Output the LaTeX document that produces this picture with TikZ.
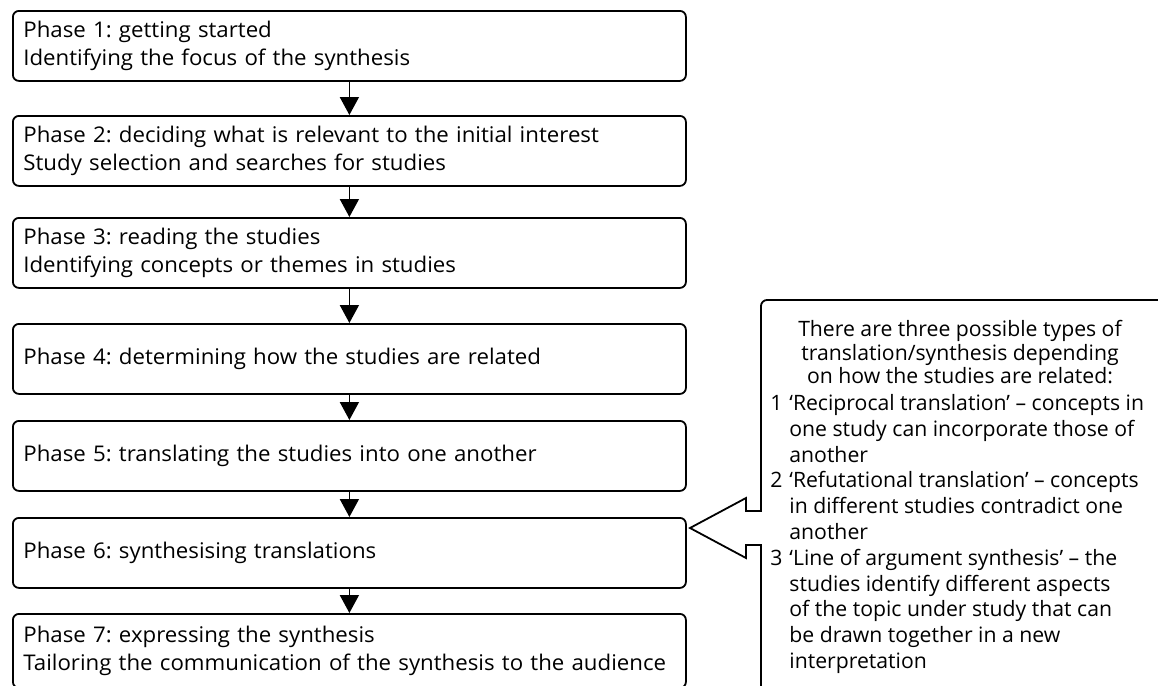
\documentclass[tikz,border=0pt]{standalone}
\usepackage{fontspec}
\setmainfont{Open Sans}
\newfontfamily\boxfont[FakeStretch=1.03]{Open Sans}
\usetikzlibrary{arrows.meta}
\frenchspacing

\newcommand{\itm}[1]{\makebox[9.5pt][l]{#1}}
\newcommand{\cont}{\hspace*{9.5pt}}

\begin{document}
\begin{tikzpicture}[x=1pt,y=-1pt,>={Triangle[width=9.5pt,length=9pt]},
 phase/.style={draw,line width=0.9pt,rounded corners=3pt,anchor=north west,minimum width=336.5pt,minimum height=35pt,text width=326pt,align=left,inner xsep=5pt,font=\boxfont\fontsize{10.8}{14}\selectfont},
 flow/.style={line width=0.9pt,->},
 note/.style={inner sep=0pt,font=\fontsize{10.6}{11.8}\selectfont}]
\useasboundingbox (0,0) rectangle (579,343);
\clip (0,0) rectangle (579,343);
% the seven phases
\node[phase] (p1) at (6,5) {Phase 1: getting started\\Identifying the focus of the synthesis};
\node[phase] (p2) at (6,57.5) {Phase 2: deciding what is relevant to the initial interest\\Study selection and searches for studies};
\node[phase] (p3) at (6,108.5) {Phase 3: reading the studies\\Identifying concepts or themes in studies};
\node[phase] (p4) at (6,161.5) {Phase 4: determining how the studies are related};
\node[phase] (p5) at (6,210) {Phase 5: translating the studies into one another};
\node[phase] (p6) at (6,258.5) {Phase 6: synthesising translations};
\node[phase,minimum height=37pt] (p7) at (6,306.5) {Phase 7: expressing the synthesis\\Tailoring the communication of the synthesis to the audience};
\foreach \a/\b in {p1/p2,p2/p3,p3/p4,p4/p5,p5/p6,p6/p7}{\draw[flow] (\a.south)--(\b.north);}
% callout pointing at phase 6
\coordinate (tip) at (345,264);
\draw[line width=0.9pt] (590,150) [rounded corners=3pt] -- (380.5,150) -- (380.5,200) [sharp corners] -- (380.5,255.5) -- (373,255.5) -- (373,249) -- (tip) -- (373,279) -- (373,272.5) -- (380.5,272.5) -- (380.5,300) [rounded corners=3pt] -- (380.5,347) -- (590,347);
\node[note,align=center,anchor=north] (head) at (480,160) {There are three possible types of\\translation/synthesis depending\\on how the studies are related:};
\node[note,align=left,anchor=north west,font=\fontsize{10.6}{12.9}\selectfont] (types) at (385,197) {\itm{1}‘Reciprocal translation’ – concepts in\\
\cont one study can incorporate those of\\
\cont another\\
\itm{2}‘Refutational translation’ – concepts\\
\cont in different studies contradict one\\
\cont another\\
\itm{3}‘Line of argument synthesis’ – the\\
\cont studies identify different aspects\\
\cont of the topic under study that can\\
\cont be drawn together in a new\\
\cont interpretation};
\end{tikzpicture}
\end{document}
